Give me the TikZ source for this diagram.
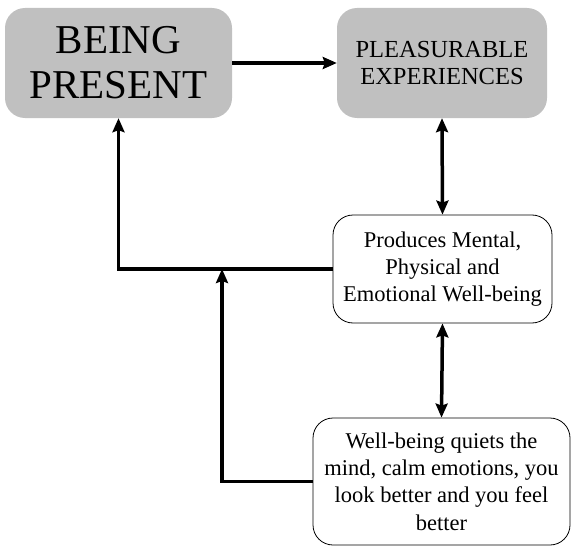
\documentclass[tikz,border=0pt]{standalone}
\usepackage{fontspec}
\setmainfont{Liberation Serif}
\usetikzlibrary{arrows.meta}
\definecolor{boxgray}{HTML}{C0C0C0}
\tikzset{
  graybox/.style={fill=boxgray,rounded corners=20pt,align=center,inner sep=0pt},
  whitebox/.style={draw,line width=0.8pt,fill=white,rounded corners=20pt,align=center,inner sep=0pt,
    font=\fontsize{22.5}{27.3}\selectfont},
  conn/.style={line width=3.5pt,-{Stealth[length=14pt,width=12pt,inset=2pt]}},
  dconn/.style={line width=3.5pt,{Stealth[length=14pt,width=12pt,inset=2pt]}-{Stealth[length=14pt,width=12pt,inset=2pt]}}
}
\begin{document}
\begin{tikzpicture}[x=1pt,y=-1pt]
                \useasboundingbox (0,0) rectangle (576,551);
                %% top boxes
                \node[graybox,minimum width=227pt,minimum height=110pt,font=\fontsize{41}{45}\selectfont] (BP) at (118.5,63) {BEING\\PRESENT};
                \node[graybox,minimum width=210pt,minimum height=110pt,font=\fontsize{24.5}{27}\selectfont] (PE) at (442,63) {PLEASURABLE\\EXPERIENCES};
                %% white boxes
                \node[whitebox,minimum width=219pt,minimum height=108pt] (WB) at (442.5,269) {Produces Mental,\\Physical and\\Emotional Well-being};
                \node[whitebox,minimum width=257pt,minimum height=127pt] (QM) at (441.5,481.5) {Well-being quiets the\\mind, calm emotions, you\\look better and you feel\\better};
                \coordinate (J) at (222,269);
                %% arrows
                \draw[conn] (BP.east) -- (PE.west);
                \draw[dconn] (PE.south) -- (WB.north);
                \draw[dconn] (WB.south) -- (QM.north);
                \draw[conn] (WB.west) -| (BP.south);
                \draw[conn] (QM.west) -| (J);
            \end{tikzpicture}
\end{document}
